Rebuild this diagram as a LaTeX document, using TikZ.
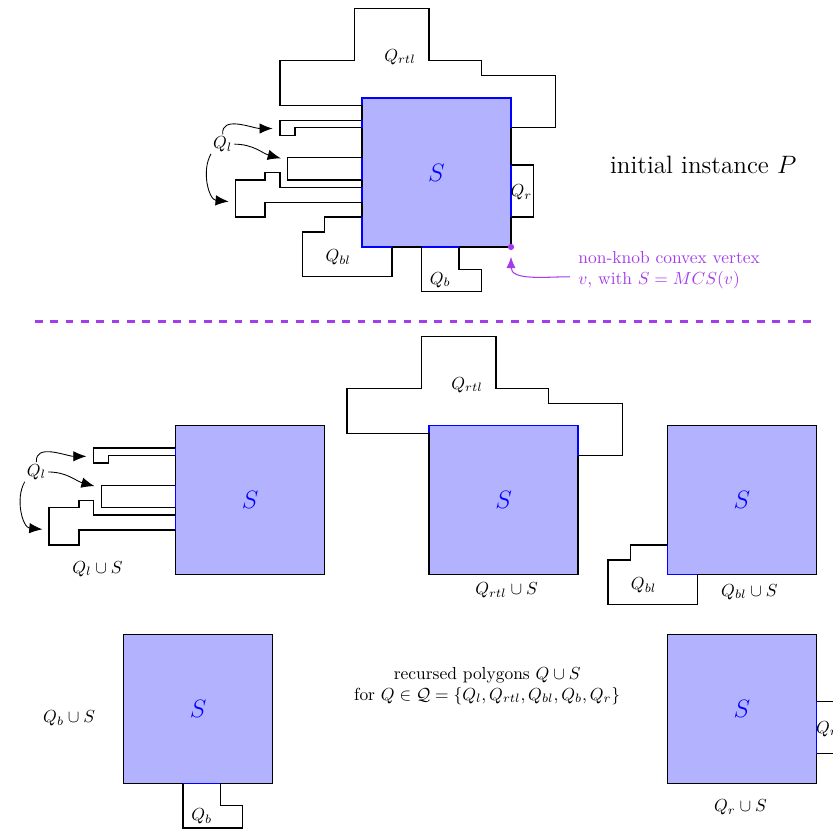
\documentclass[tikz,border=0pt]{standalone}
\usetikzlibrary{arrows.meta}
\definecolor{vio}{RGB}{165,60,235}
\tikzset{
  qline/.style={black, line width=0.8pt, line join=miter},
  sborder/.style={black, line width=0.8pt},
  win/.style={blue, line width=0.8pt},
  qlab/.style={inner sep=1pt, font=\normalsize},
  slab/.style={text=blue, font=\Large},
  qarr/.style={-{Latex[length=7.5pt,width=6pt]}, line width=0.5pt},
  varr/.style={draw=vio, -{Latex[length=6.5pt,width=5.2pt,fill=vio]}, line width=0.6pt},
  divider/.style={draw=vio, line width=1.2pt, dash pattern=on 4.4pt off 4.4pt},
  caption/.style={inner sep=1pt, font=\normalsize},
}
% S square with black border
\newcommand\mySbox{%
  \fill[blue!30] (0,0) rectangle (20,20);
  \draw[sborder] (0,0) rectangle (20,20);
  \node[slab] (s) at (10,10) {$S$};}
% pockets
\newcommand\myQrtl{%
  \draw[qline] (0,19) -- (-11,19) -- (-11,25) -- (-1,25) -- (-1,32) -- (9,32) -- (9,25)
     -- (16,25) -- (16,23) -- (26,23) -- (26,16) -- (20,16);
  \draw[win] (0,19) -- (0,20) -- (20,20) -- (20,16);
  \node[qlab] (qrtl) at (5.1,25.5) {$Q_{rtl}$};}
\newcommand\myQl{%
  \draw[qline] (0,17) -- (-11,17) -- (-11,15) -- (-9,15) -- (-9,16) -- (0,16);
  \draw[qline] (0,12) -- (-10,12) -- (-10,9) -- (0,9);
  \draw[qline] (0,8) -- (-11,8) -- (-11,10) -- (-13,10) -- (-13,9) -- (-17,9) -- (-17,4)
     -- (-13,4) -- (-13,6) -- (0,6);
  \draw[win] (0,16) -- (0,17);
  \draw[win] (0,9) -- (0,12);
  \draw[win] (0,6) -- (0,8);
  \node[qlab] (ql) at (-18.7,13.8) {$Q_l$};
  \coordinate (qa1) at (-12,15.9);
  \coordinate (qa2) at (-10.9,11.9);
  \coordinate (qa3) at (-17.9,6.1);
  \draw[qarr] (ql.north) to[out=95,in=180] (qa1);
  \draw[qarr] (ql.east) to[out=0,in=165] (qa2);
  \draw[qarr] (ql.south west) to[out=-120,in=175] (qa3);}
\newcommand\myQbl{%
  \draw[qline] (0,4) -- (-5,4) -- (-5,2) -- (-8,2) -- (-8,-4) -- (4,-4) -- (4,0);
  \draw[win] (0,4) -- (0,0) -- (4,0);
  \node[qlab] (qbl) at (-3.2,-1.4) {$Q_{bl}$};}
\newcommand\myQb{%
  \draw[qline] (8,0) -- (8,-6) -- (16,-6) -- (16,-3) -- (13,-3) -- (13,0);
  \draw[win] (8,0) -- (13,0);
  \node[qlab] (qb) at (10.5,-4.4) {$Q_b$};}
\newcommand\myQr{%
  \draw[qline] (20,11) -- (23,11) -- (23,4) -- (20,4);
  \draw[win] (20,4) -- (20,11);
  \node[qlab] (qr) at (21.4,7.3) {$Q_r$};}
\begin{document}
\begin{tikzpicture}[x=0.15cm, y=0.15cm]
\clip (-48.59,-78.26) rectangle (63.22,33.15);
% ---------- initial instance ----------
\begin{scope}[name prefix=m-]
  \mySbox
  \myQrtl \myQl \myQbl \myQb \myQr
  \node[circle, fill=vio, inner sep=0pt, minimum size=3.6pt] (v) at (20,0) {};
  \node[anchor=west, align=left, inner sep=0pt, text=vio] (vt) at (29,-3.1)
     {non-knob convex vertex\\$v$, with $S=MCS(v)$};
  \coordinate (vs) at (27.9,-4.0);
  \coordinate (vend) at (20,-1.3);
  \draw[varr] (vs) to[out=180,in=-90] (vend);
  \node[font=\Large] (title) at (45.8,11.0) {initial instance $P$};
\end{scope}
% divider
\coordinate (dl) at (-43.9,-10);
\coordinate (dr) at (60.9,-10);
\draw[divider] (dl) -- (dr);
% ---------- recursed polygons ----------
\begin{scope}[shift={(-25,-44)}, name prefix=a-]
  \mySbox \myQl
  \node[caption] (cap) at (-10.5,0.8) {$Q_l\cup S$};
\end{scope}
\begin{scope}[shift={(9,-44)}, name prefix=b-]
  \mySbox \myQrtl
  \node[caption] (cap) at (10.4,-2.1) {$Q_{rtl}\cup S$};
\end{scope}
\begin{scope}[shift={(41,-44)}, name prefix=c-]
  \mySbox \myQbl
  \node[caption] (cap) at (11,-2.3) {$Q_{bl}\cup S$};
\end{scope}
\begin{scope}[shift={(-32,-72)}, name prefix=d-]
  \mySbox \myQb
  \node[caption] (cap) at (-7.3,8.7) {$Q_b\cup S$};
\end{scope}
\begin{scope}[shift={(41,-72)}, name prefix=e-]
  \mySbox \myQr
  \node[caption] (cap) at (9.8,-3.2) {$Q_r\cup S$};
\end{scope}
\node[align=center, inner sep=1pt] (mid) at (16.8,-58.9)
  {recursed polygons $Q\cup S$\\ for $Q\in\mathcal{Q}=\{Q_l,Q_{rtl},Q_{bl},Q_b,Q_r\}$};
\end{tikzpicture}
\end{document}
